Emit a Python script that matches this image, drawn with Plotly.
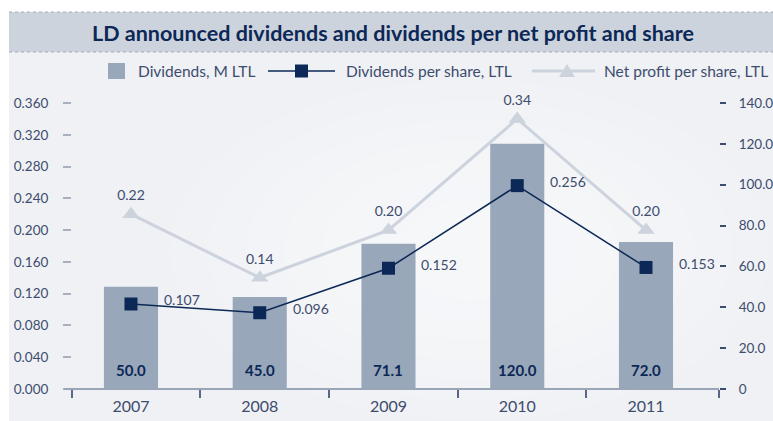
import plotly.graph_objects as go

years = ["2007", "2008", "2009", "2010", "2011"]
dividends_m = [50.0, 45.0, 71.1, 120.0, 72.0]
div_per_share = [0.107, 0.096, 0.152, 0.256, 0.153]
profit_per_share = [0.22, 0.14, 0.20, 0.34, 0.20]
left_ticks = [0.0, 0.04, 0.08, 0.12, 0.16, 0.20, 0.24, 0.28, 0.32, 0.36]
right_ticks = [0, 20, 40, 60, 80, 100, 120, 140]
right_labels = ["0", "20.0", "40.0", "60.0", "80.0", "100.0", "120.0", "140.0"]
series_names = ["Dividends, M LTL", "Dividends per share, LTL", "Net profit per share, LTL"]

NAVY = "#0c2856"
TXT = "#3e4c6e"
BAR = "#99a7ba"
LIGHT = "#cdd3dd"
FONT = "Lato"
TICK_SIZE = 13.5

xs = list(range(len(years)))

W = 647.0
H = 286.0
def px(x):
    return (x - 72) / W
def py(y):
    return (389 - y) / H

fig = go.Figure()
fig.add_trace(go.Bar(
    x=xs, y=dividends_m, name=series_names[0], yaxis="y",
    marker=dict(color=BAR, line=dict(width=0)), width=0.42,
))
fig.add_trace(go.Scatter(
    x=xs, y=profit_per_share, name=series_names[2], yaxis="y2",
    mode="lines+markers+text", line=dict(color=LIGHT, width=3),
    marker=dict(symbol="triangle-up", size=15, color=LIGHT),
    text=[f"{v:.2f}" for v in profit_per_share], textposition="top center",
    textfont=dict(family=FONT, size=TICK_SIZE + 0.5, color=TXT), cliponaxis=False,
))
fig.add_trace(go.Scatter(
    x=xs, y=div_per_share, name=series_names[1], yaxis="y2",
    mode="lines+markers", line=dict(color=NAVY, width=1.5),
    marker=dict(symbol="square", size=13, color=NAVY), cliponaxis=False,
))

annotations = []
for x, v in zip(xs, div_per_share):
    annotations.append(dict(x=x, y=v, xref="x", yref="y2", text=f"{v:.3f}",
                            showarrow=False, xanchor="left", xshift=31, yshift=4,
                            font=dict(family=FONT, size=TICK_SIZE + 0.5, color=TXT)))
for x, v in zip(xs, dividends_m):
    annotations.append(dict(x=x, y=0, xref="x", yref="y", text=f"<b>{v:.1f}</b>",
                            showarrow=False, yanchor="middle", yshift=19,
                            font=dict(family=FONT, size=15, color=NAVY)))

# manual legend
LY = py(71)
legend_text_x = [136, 344, 602]
for name, lx in zip(series_names, legend_text_x):
    annotations.append(dict(x=px(lx), y=LY, xref="paper", yref="paper", text=name,
                            showarrow=False, xanchor="left", yanchor="middle",
                            font=dict(family=FONT, size=15.5, color=TXT)))

shapes = [
    dict(type="rect", xref="paper", yref="paper", x0=px(9), x1=px(773), y0=py(421), y1=py(52),
         fillcolor="#eff1f4", line=dict(width=0), layer="below"),
]
# soft radial lightening of the background (decoration)
glow = ["#f0f2f5", "#f1f3f6", "#f2f4f7", "#f3f5f7", "#f4f6f8", "#f5f6f9", "#f6f7f9"]
for i, c in enumerate(glow):
    dx = 300 - i * 38
    dy = 170 - i * 20
    cx, cy = 470, 250
    shapes.append(dict(type="circle", xref="paper", yref="paper",
                       x0=px(cx - dx), x1=px(cx + dx), y0=py(cy + dy), y1=py(cy - dy),
                       fillcolor=c, line=dict(width=0), layer="below"))
shapes += [
    dict(type="rect", xref="paper", yref="paper", x0=px(9), x1=px(773), y0=py(52), y1=py(12),
         fillcolor="#cdd3dc", line=dict(width=0), layer="below"),
    dict(type="line", xref="paper", yref="paper", x0=px(9), x1=px(773), y0=py(12), y1=py(12),
         line=dict(color="#a3abb8", width=1, dash="dot")),
    dict(type="line", xref="paper", yref="paper", x0=px(9), x1=px(773), y0=py(52), y1=py(52),
         line=dict(color="#a3abb8", width=1, dash="dot")),
    dict(type="line", xref="paper", yref="paper", x0=px(64), x1=px(719), y0=0, y1=0,
         line=dict(color="#9aa5b8", width=2)),
    # legend symbols
    dict(type="rect", xref="paper", yref="paper", x0=px(108), x1=px(125), y0=py(79), y1=py(63),
         fillcolor=BAR, line=dict(width=0)),
    dict(type="line", xref="paper", yref="paper", x0=px(268), x1=px(335), y0=LY, y1=LY,
         line=dict(color=NAVY, width=1.5)),
    dict(type="rect", xref="paper", yref="paper", x0=px(295), x1=px(308), y0=py(77.5), y1=py(64.5),
         fillcolor=NAVY, line=dict(width=0)),
    dict(type="line", xref="paper", yref="paper", x0=px(532), x1=px(595), y0=LY, y1=LY,
         line=dict(color=LIGHT, width=3)),
    dict(type="path", xref="paper", yref="paper",
         path=f"M {px(559)} {py(77)} L {px(575)} {py(77)} L {px(567)} {py(64)} Z",
         fillcolor=LIGHT, line=dict(width=0)),
]

fig.update_layout(
    width=773, height=421,
    margin=dict(l=72, r=54, t=103, b=32, autoexpand=False),
    paper_bgcolor="white", plot_bgcolor="rgba(0,0,0,0)",
    font=dict(family=FONT, color=TXT, size=15),
    title=dict(text="<b>LD announced dividends and dividends per net profit and share</b>",
               x=393 / 773, xanchor="center", y=1 - 33 / 421, yanchor="middle",
               yref="container", xref="container",
               font=dict(family=FONT, size=21.5, color=NAVY)),
    showlegend=False,
    xaxis=dict(range=[-0.458, 4.567], tickvals=xs, ticktext=years, ticks="",
               showgrid=False, zeroline=False, showline=False, automargin=False,
               tickfont=dict(family=FONT, size=16, color=TXT), ticklabelstandoff=6,
               minor=dict(tickvals=[-0.458, 0.536, 1.536, 2.536, 3.536, 4.567], ticks="outside",
                          ticklen=8, tickcolor="#5a6685", tickwidth=1.5, showgrid=False)),
    yaxis=dict(side="right", range=[0, 140], tickvals=right_ticks, ticktext=right_labels,
               ticks="outside", ticklen=6, tickcolor=TXT, tickwidth=1.5, ticklabelstandoff=10,
               showgrid=False, zeroline=False, showline=False, automargin=False,
               tickfont=dict(family=FONT, size=TICK_SIZE, color=TXT)),
    yaxis2=dict(overlaying="y", side="left", range=[0, 0.36], tickvals=left_ticks,
                tickformat=".3f", ticks="outside", ticklen=8, tickcolor="#a9b0bd", tickwidth=1.5,
                ticklabelstandoff=12, showgrid=False, zeroline=False, showline=False,
                automargin=False, tickfont=dict(family=FONT, size=TICK_SIZE, color=TXT)),
    shapes=shapes,
    annotations=annotations,
)

fig.write_html("out.html", config={"displayModeBar": False},
               post_script="document.body.style.margin='0';document.body.style.overflow='hidden';")
